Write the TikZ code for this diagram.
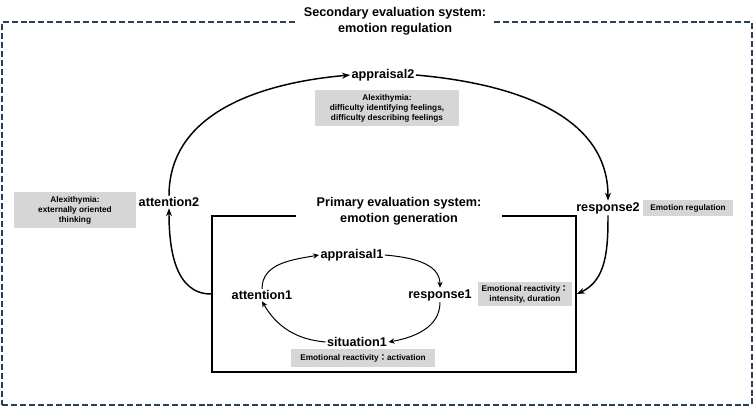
\documentclass[tikz,border=0pt]{standalone}
\usepackage{fontspec}
\setmainfont{Liberation Sans}
\newfontfamily\cjk{Noto Sans CJK JP}
\usetikzlibrary{arrows.meta,positioning}

\begin{document}
\begin{tikzpicture}[
    x=0.75pt, y=-0.75pt,
    label/.style={inner sep=1pt, font=\bfseries\fontsize{9.5}{12}\selectfont},
    heading/.style={fill=white, inner sep=1pt, align=center, font=\bfseries\fontsize{9.5}{12}\selectfont},
    note/.style={fill=notegray, inner sep=2pt, align=center, font=\bfseries\fontsize{6.2}{7.5}\selectfont},
    bigarrow/.style={line width=1.1pt, -{Stealth[length=6pt,width=4.5pt]}},
    smallarrow/.style={line width=0.75pt, -{Stealth[length=4.5pt,width=4pt,open]}}
]

% Define colors
\definecolor{notegray}{RGB}{214,214,214}   % grey boxes
\definecolor{dashblue}{RGB}{40,64,92}      % outer frame

\useasboundingbox (0,0) rectangle (754,408);

% Frames
\node[draw=dashblue, line width=1.4pt, dash pattern=on 4.5pt off 2.2pt, minimum width=562.5pt, minimum height=287pt] (secondary) at (377,213.5) {};
\node[draw=black, line width=1.4pt, minimum width=273pt, minimum height=117pt] (primary) at (394,294) {};

\node[heading, minimum width=147pt] (sectitle) at (395,21) {Secondary evaluation system:\\emotion regulation};
\node[heading, minimum width=154pt] (primtitle) at (399,211) {Primary evaluation system:\\emotion generation};

% Secondary loop
\node[label] (appraisal2) at (383,75) {appraisal2};
\node[label] (attention2) at (169,202) {attention2};
\node[label] (response2) at (608,208) {response2};

% Primary loop
\node[label] (appraisal1) at (352,255) {appraisal1};
\node[label] (attention1) at (262,295) {attention1};
\node[label] (response1) at (440,295) {response1};
\node[label] (situation1) at (357,342) {situation1};

% Notes
\node[note, minimum width=108pt, minimum height=27.5pt] (alexdiff) at (387,108) {Alexithymia:\\difficulty identifying feelings,\\difficulty describing feelings};
\node[note, minimum width=92pt, minimum height=27.5pt] (alexext) at (75,210) {Alexithymia:\\externally oriented\\thinking};
\node[note, minimum width=68pt, minimum height=12pt] (regulation) at (688,208) {Emotion regulation};
\node[note, minimum width=71pt, minimum height=17pt] (intensity) at (525,294) {Emotional reactivity{\cjk ：}\\intensity, duration};
\node[note, minimum width=108pt, minimum height=13pt] (activation) at (363,358) {Emotional reactivity{\cjk ：}activation};

% Connections
\draw[bigarrow] (attention2.north) to[out=90, in=185] (appraisal2.west);
\draw[bigarrow] (appraisal2.east) to[out=-5, in=90] (response2.north);
\draw[bigarrow] (response2.south) to[out=-90, in=25] (primary.east);
\draw[bigarrow] (primary.west) to[out=180, in=-90] (attention2.south);

\draw[smallarrow] (attention1.north) to[out=90, in=190] (appraisal1.west);
\draw[smallarrow] (appraisal1.east) to[out=-5, in=90] (response1.north);
\draw[smallarrow] (response1.south) to[out=-90, in=10] (situation1.east);
\draw[smallarrow] (situation1.west) to[out=175, in=-60] (attention1.south);

\end{tikzpicture}
\end{document}
